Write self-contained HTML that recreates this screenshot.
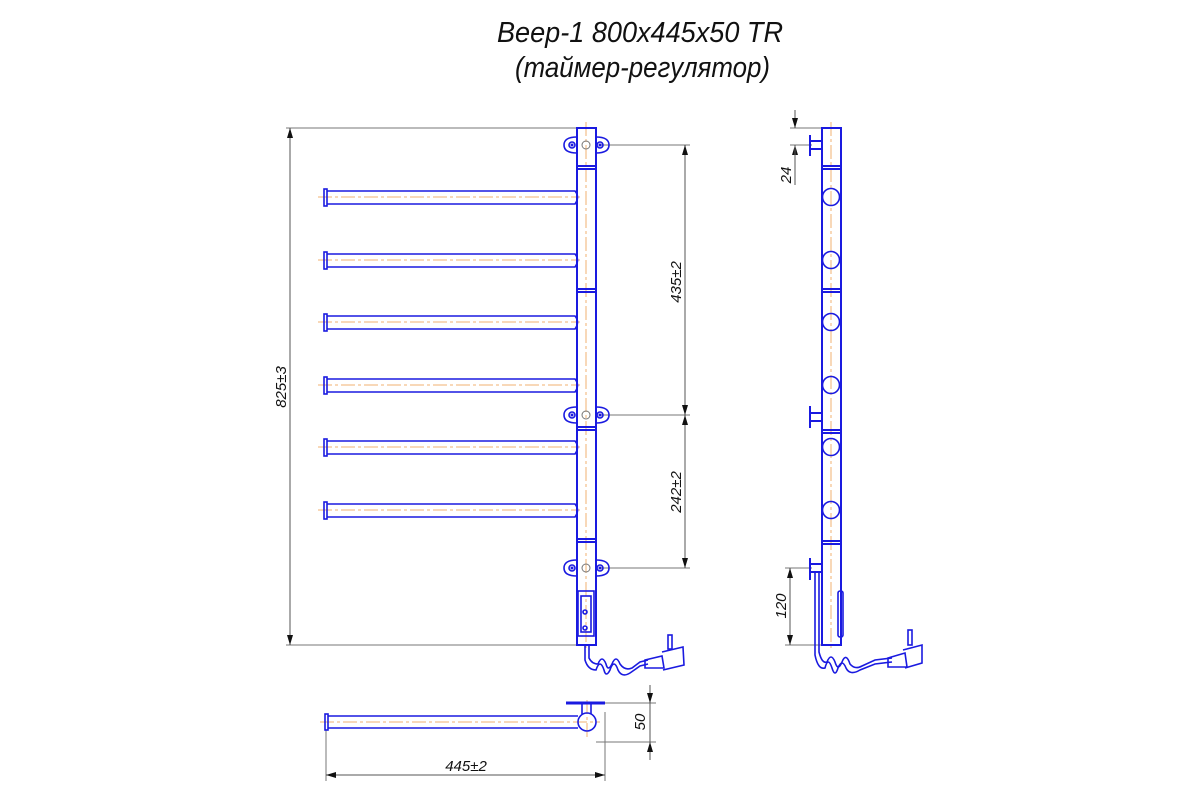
<!DOCTYPE html>
<html><head><meta charset="utf-8"><style>
html,body{margin:0;padding:0;background:#fff;}
svg{display:block}
text{font-family:"Liberation Sans",sans-serif;font-style:italic;fill:#111}
</style></head><body>
<svg width="1200" height="800" viewBox="0 0 1200 800" xmlns="http://www.w3.org/2000/svg">
<defs>
<marker id="ar" viewBox="0 0 10 6" refX="10" refY="3" markerWidth="10" markerHeight="6" orient="auto-start-reverse" markerUnits="userSpaceOnUse"><path d="M0,0 L10,3 L0,6 z" fill="#111"/></marker>
</defs>
<!-- title -->
<text x="497" y="42" font-size="29" textLength="286" lengthAdjust="spacingAndGlyphs" style="font-weight:300">Beep-1 800x445x50  TR</text>
<text x="515" y="77" font-size="29" textLength="255" lengthAdjust="spacingAndGlyphs" style="font-weight:300">(таймер-регулятор)</text>

<!-- dimension lines gray -->
<g stroke="#777" stroke-width="1" fill="none">
<line x1="286" y1="128" x2="578" y2="128"/>
<line x1="286" y1="645" x2="578" y2="645"/>
<line x1="600" y1="145" x2="690" y2="145"/>
<line x1="600" y1="415" x2="690" y2="415"/>
<line x1="600" y1="568" x2="690" y2="568"/>
<line x1="790" y1="128" x2="822" y2="128"/>
<line x1="790" y1="145" x2="812" y2="145"/>
<line x1="785" y1="568" x2="812" y2="568"/>
<line x1="785" y1="645" x2="822" y2="645"/>
<line x1="605" y1="703" x2="656" y2="703"/>
<line x1="596" y1="742" x2="656" y2="742"/>
<line x1="326" y1="730" x2="326" y2="781"/>
<line x1="605" y1="712" x2="605" y2="781"/>
</g>
<g stroke="#555" stroke-width="1" fill="none">
<line x1="290" y1="128" x2="290" y2="645" marker-start="url(#ar)" marker-end="url(#ar)"/>
<line x1="685" y1="145" x2="685" y2="415" marker-start="url(#ar)" marker-end="url(#ar)"/>
<line x1="685" y1="415" x2="685" y2="568" marker-start="url(#ar)" marker-end="url(#ar)"/>
<line x1="795" y1="110" x2="795" y2="128" marker-end="url(#ar)"/>
<line x1="795" y1="163" x2="795" y2="145" marker-end="url(#ar)"/>
<line x1="795" y1="145" x2="795" y2="185"/>
<line x1="790" y1="568" x2="790" y2="645" marker-start="url(#ar)" marker-end="url(#ar)"/>
<line x1="650" y1="685" x2="650" y2="703" marker-end="url(#ar)"/>
<line x1="650" y1="760" x2="650" y2="742" marker-end="url(#ar)"/>
<line x1="650" y1="703" x2="650" y2="742"/>
<line x1="326" y1="775" x2="605" y2="775" marker-start="url(#ar)" marker-end="url(#ar)"/>
</g>
<g font-size="15">
<text transform="translate(286,387) rotate(-90)" text-anchor="middle">825±3</text>
<text transform="translate(681,282) rotate(-90)" text-anchor="middle">435±2</text>
<text transform="translate(681,492) rotate(-90)" text-anchor="middle">242±2</text>
<text transform="translate(791,175) rotate(-90)" text-anchor="middle">24</text>
<text transform="translate(786,606) rotate(-90)" text-anchor="middle">120</text>
<text transform="translate(645,722) rotate(-90)" text-anchor="middle">50</text>
<text x="466" y="771" text-anchor="middle">445±2</text>
</g>

<!-- centerlines orange -->
<g stroke="#f0b070" stroke-width="1" stroke-dasharray="14,3,3,3" fill="none">
<line x1="586" y1="122" x2="586" y2="650"/>
<line x1="831" y1="122" x2="831" y2="650"/>
<line x1="318" y1="197" x2="580" y2="197"/>
<line x1="318" y1="260" x2="580" y2="260"/>
<line x1="318" y1="322" x2="580" y2="322"/>
<line x1="318" y1="385" x2="580" y2="385"/>
<line x1="318" y1="447" x2="580" y2="447"/>
<line x1="318" y1="510" x2="580" y2="510"/>
<line x1="320" y1="722" x2="600" y2="722"/>
<line x1="587" y1="700" x2="587" y2="740"/>
</g>

<!-- front view blue -->
<g stroke="#1a1ae0" stroke-width="2" fill="none">
<rect x="577" y="128" width="19" height="517"/>
<line x1="577" y1="166" x2="596" y2="166"/><line x1="577" y1="169" x2="596" y2="169"/>
<line x1="577" y1="289" x2="596" y2="289"/><line x1="577" y1="292" x2="596" y2="292"/>
<line x1="577" y1="427" x2="596" y2="427"/><line x1="577" y1="430" x2="596" y2="430"/>
<line x1="577" y1="539" x2="596" y2="539"/><line x1="577" y1="542" x2="596" y2="542"/>
</g>
<g stroke="#1a1ae0" stroke-width="1.6" fill="none">
<g id="rail">
<path d="M327,191 L575,191 Q580,197 575,204 L327,204"/>
<rect x="324" y="189" width="3" height="17"/>
</g>
<use href="#rail" y="63"/>
<use href="#rail" y="125"/>
<use href="#rail" y="188"/>
<use href="#rail" y="250"/>
<use href="#rail" y="313"/>
<g id="br">
<path d="M577,137 Q564,137 564,145 Q564,153 577,153"/>
<path d="M596,137 Q609,137 609,145 Q609,153 596,153"/>
<circle cx="572" cy="145" r="3"/><circle cx="600" cy="145" r="3"/>
</g>
<use href="#br" y="270"/>
<use href="#br" y="423"/>
<rect x="578" y="591" width="16" height="45"/>
<rect x="581" y="596" width="10" height="36"/>
<circle cx="585" cy="612" r="2"/><circle cx="585" cy="628" r="2"/>
<path d="M585,645 L585,660 Q588,670 596,670 Q600,658 604,670 Q606,678 610,670 Q614,658 618,670 Q622,678 630,673 L640,666 L648,664"/>
<path d="M589,645 L589,658 Q592,664 598,664 Q602,654 606,664 Q608,672 612,664 Q616,654 620,664 Q625,671 632,668 L640,662 L648,660"/>
<path d="M645,660 L662,656 L664,668 L645,668 Z"/>
<path d="M662,652 L683,647 L684,665 L663,670"/>
<rect x="668" y="635" width="4" height="14"/>
</g>
<g fill="#1a1ae0">
<circle cx="572" cy="145" r="1.5"/><circle cx="600" cy="145" r="1.5"/>
<circle cx="572" cy="415" r="1.5"/><circle cx="600" cy="415" r="1.5"/>
<circle cx="572" cy="568" r="1.5"/><circle cx="600" cy="568" r="1.5"/>
</g>
<g stroke="#777" fill="none" stroke-width="1">
<circle cx="586" cy="145" r="4"/><circle cx="586" cy="415" r="4"/><circle cx="586" cy="568" r="4"/>
</g>

<!-- side view -->
<g stroke="#1a1ae0" stroke-width="2" fill="none">
<rect x="822" y="128" width="19" height="517"/>
<line x1="822" y1="166" x2="841" y2="166"/><line x1="822" y1="169" x2="841" y2="169"/>
<line x1="822" y1="289" x2="841" y2="289"/><line x1="822" y1="292" x2="841" y2="292"/>
<line x1="822" y1="430" x2="841" y2="430"/><line x1="822" y1="433" x2="841" y2="433"/>
<line x1="822" y1="541" x2="841" y2="541"/><line x1="822" y1="544" x2="841" y2="544"/>
<line x1="810" y1="135" x2="810" y2="156"/><line x1="810" y1="141" x2="822" y2="141"/><line x1="810" y1="149" x2="822" y2="149"/>
<line x1="810" y1="406" x2="810" y2="428"/><line x1="810" y1="413" x2="822" y2="413"/><line x1="810" y1="421" x2="822" y2="421"/>
<line x1="810" y1="558" x2="810" y2="580"/><line x1="810" y1="564" x2="822" y2="564"/><line x1="810" y1="572" x2="822" y2="572"/>
</g>
<g stroke="#1a1ae0" stroke-width="1.6" fill="none">
<circle cx="831" cy="197" r="8.5"/><circle cx="831" cy="260" r="8.5"/>
<circle cx="831" cy="322" r="8.5"/><circle cx="831" cy="385" r="8.5"/>
<circle cx="831" cy="447" r="8.5"/><circle cx="831" cy="510" r="8.5"/>
<rect x="838" y="591" width="5" height="46" rx="2"/>
<path d="M815,572 L815,655 Q818,670 825,668 Q828,656 832,668 Q835,678 838,668 Q842,658 846,668 Q850,676 860,670 L875,664 L892,662"/>
<path d="M819,572 L819,652 Q822,664 827,662 Q831,652 835,662 Q838,672 842,662 Q846,652 850,664 Q855,670 862,666 L875,660 L892,658"/>
<path d="M888,658 L905,653 L907,667 L888,667 Z"/>
<path d="M903,650 L922,645 L922,663 L905,668"/>
<rect x="908" y="630" width="4" height="15"/>
</g>

<!-- bottom view -->
<g stroke="#1a1ae0" stroke-width="1.6" fill="none">
<path d="M328,716 L578,716 M328,728 L578,728"/>
<rect x="325" y="714" width="3" height="16"/>
<circle cx="587" cy="722" r="9"/>
<line x1="582" y1="704" x2="582" y2="714"/><line x1="591" y1="704" x2="591" y2="714"/>
</g>
<line x1="566" y1="703" x2="605" y2="703" stroke="#1a1ae0" stroke-width="3"/>
</svg>
</body></html>
